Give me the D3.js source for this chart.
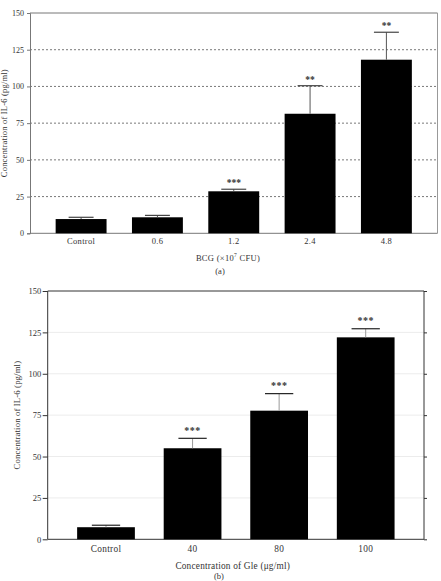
<!DOCTYPE html>
<html><head><meta charset="utf-8">
<script src="https://cdn.jsdelivr.net/npm/d3@7"></script>
<style>body{margin:0;background:#fff}svg{display:block}text{font-family:"Liberation Serif","Times New Roman",serif;fill:#333}</style>
</head><body><svg id="c" width="441" height="581"></svg>
<script>
const catsA = ["Control","0.6","1.2","2.4","4.8"];
const valsA = [9.7,10.9,28.6,81.4,118.2];
const errA  = [1.2,1.3,1.4,19.1,18.7];
const starsA = ["","","***","**","**"];
const catsB = ["Control","40","80","100"];
const valsB = [7.3,55,77.7,122];
const errB  = [1.2,6,10.3,5.2];
const starsB = ["","***","***","***"];
const yTicks = [0,25,50,75,100,125,150];

const svg = d3.select("#c");

// ---------- Panel (a) ----------
{
  const L=30,R=437.5,T=13,B=233.3;
  const x=d3.scaleBand().domain(catsA).range([L,R]).paddingInner(0.333).paddingOuter(0.336);
  const y=d3.scaleLinear().domain([0,150]).range([B,T]);
  const g=svg.append("g");
  g.selectAll(".grid").data(yTicks.filter(d=>d>0&&d<150)).join("line")
    .attr("x1",L).attr("x2",R).attr("y1",d=>y(d)).attr("y2",d=>y(d))
    .attr("stroke","#555").attr("stroke-width",0.8).attr("stroke-dasharray","2,2");
  g.append("line").attr("x1",L).attr("x2",R).attr("y1",T).attr("y2",T).attr("stroke","#777");
  g.append("line").attr("x1",R).attr("x2",R).attr("y1",T).attr("y2",B).attr("stroke","#999");
  const ya=g.append("g").attr("transform",`translate(${L},0)`)
    .call(d3.axisLeft(y).tickValues(yTicks).tickSize(3).tickPadding(3));
  ya.select(".domain").attr("stroke","#777");
  ya.selectAll(".tick line").attr("stroke","#777");
  ya.selectAll("text").attr("font-size","8px").attr("fill","#444").attr("font-family","Liberation Serif");
  const xa=g.append("g").attr("transform",`translate(0,${B})`)
    .call(d3.axisBottom(x).tickSize(0).tickPadding(5));
  xa.select(".domain").attr("stroke","#777").attr("d",`M${L},0H${R}`);
  xa.selectAll("text").attr("font-size","8.5px").attr("fill","#444").attr("font-family","Liberation Serif").attr("letter-spacing","0.3px");
  g.selectAll(".bar").data(catsA).join("rect")
    .attr("x",d=>x(d)).attr("width",x.bandwidth())
    .attr("y",(d,i)=>y(valsA[i])).attr("height",(d,i)=>B-y(valsA[i])).attr("fill","#000");
  const cw=x.bandwidth()*0.49;
  g.selectAll(".stem").data(catsA).join("line")
    .attr("x1",d=>x(d)+x.bandwidth()/2).attr("x2",d=>x(d)+x.bandwidth()/2)
    .attr("y1",(d,i)=>y(valsA[i])).attr("y2",(d,i)=>y(valsA[i]+errA[i])).attr("stroke","#555").attr("stroke-width",1);
  g.selectAll(".cap").data(catsA).join("line")
    .attr("x1",d=>x(d)+x.bandwidth()/2-cw/2).attr("x2",d=>x(d)+x.bandwidth()/2+cw/2)
    .attr("y1",(d,i)=>y(valsA[i]+errA[i])).attr("y2",(d,i)=>y(valsA[i]+errA[i])).attr("stroke","#444").attr("stroke-width",1.2);
  g.selectAll(".star").data(catsA).join("text")
    .attr("x",d=>x(d)+x.bandwidth()/2).attr("y",(d,i)=>y(valsA[i]+errA[i])-3)
    .attr("text-anchor","middle").attr("font-size","9.5px").attr("font-weight","bold").attr("fill","#222").text((d,i)=>starsA[i]);
  g.append("text").attr("transform",`translate(7,${(T+B)/2}) rotate(-90)`).attr("text-anchor","middle")
    .attr("font-size","8.5px").attr("fill","#444").attr("letter-spacing","0.2px").text("Concentration of IL-6 (pg/ml)");
  const t=g.append("text").attr("x",228).attr("y",260.5).attr("text-anchor","middle").attr("font-size","8.5px").attr("fill","#444").attr("letter-spacing","0.3px");
  t.append("tspan").text("BCG (×10");
  t.append("tspan").attr("font-size","5.5px").attr("dy","-3.5").text("7");
  t.append("tspan").attr("dy","3.5").text("  CFU)");
  g.append("text").attr("x",220).attr("y",274).attr("text-anchor","middle").attr("font-size","8.5px").attr("fill","#444").text("(a)");
}

// ---------- Panel (b) ----------
{
  const L=47.7,R=424,T=291,B=539.3;
  const x=d3.scaleBand().domain(catsB).range([L,R]).paddingInner(0.333).paddingOuter(0.34);
  const y=d3.scaleLinear().domain([0,150]).range([B,T]);
  const g=svg.append("g");
  g.selectAll(".grid").data(yTicks.filter(d=>d>0&&d<150)).join("line")
    .attr("x1",L).attr("x2",R).attr("y1",d=>y(d)).attr("y2",d=>y(d))
    .attr("stroke","#ececec").attr("stroke-width",1);
  g.append("line").attr("x1",L).attr("x2",R).attr("y1",T).attr("y2",T).attr("stroke","#333");
  const yr=g.append("g").attr("transform",`translate(${R},0)`)
    .call(d3.axisRight(y).tickValues(yTicks).tickSize(3).tickFormat(""));
  yr.select(".domain").attr("stroke","#333").attr("d",`M0,${B}V${T}`);
  yr.selectAll(".tick line").attr("stroke","#333");
  const ya=g.append("g").attr("transform",`translate(${L},0)`)
    .call(d3.axisLeft(y).tickValues(yTicks).tickSize(5).tickPadding(1.5));
  ya.select(".domain").attr("stroke","#333").attr("d",`M0,${B}V${T}`);
  ya.selectAll(".tick line").attr("stroke","#333");
  ya.selectAll("text").attr("font-size","8.5px").attr("fill","#444").attr("font-family","Liberation Serif");
  const xa=g.append("g").attr("transform",`translate(0,${B})`)
    .call(d3.axisBottom(x).tickSize(0).tickPadding(6));
  xa.select(".domain").attr("stroke","#333").attr("d",`M${L},0H${R}`);
  xa.selectAll("text").attr("font-size","9.3px").attr("fill","#444").attr("font-family","Liberation Serif").attr("letter-spacing","0.3px");
  g.selectAll(".bar").data(catsB).join("rect")
    .attr("x",d=>x(d)).attr("width",x.bandwidth())
    .attr("y",(d,i)=>y(valsB[i])).attr("height",(d,i)=>B-y(valsB[i])).attr("fill","#000");
  const cw=x.bandwidth()*0.49;
  g.selectAll(".stem").data(catsB).join("line")
    .attr("x1",d=>x(d)+x.bandwidth()/2).attr("x2",d=>x(d)+x.bandwidth()/2)
    .attr("y1",(d,i)=>y(valsB[i])).attr("y2",(d,i)=>y(valsB[i]+errB[i])).attr("stroke","#999").attr("stroke-width",1);
  g.selectAll(".cap").data(catsB).join("line")
    .attr("x1",d=>x(d)+x.bandwidth()/2-cw/2).attr("x2",d=>x(d)+x.bandwidth()/2+cw/2)
    .attr("y1",(d,i)=>y(valsB[i]+errB[i])).attr("y2",(d,i)=>y(valsB[i]+errB[i])).attr("stroke","#222").attr("stroke-width",1.2);
  g.selectAll(".star").data(catsB).join("text")
    .attr("x",d=>x(d)+x.bandwidth()/2).attr("y",(d,i)=>y(valsB[i]+errB[i])-4.5)
    .attr("text-anchor","middle").attr("font-size","10px").attr("font-weight","bold").attr("fill","#222").attr("letter-spacing","0.5px").text((d,i)=>starsB[i]);
  g.append("text").attr("transform",`translate(20,${(T+B)/2}) rotate(-90)`).attr("text-anchor","middle")
    .attr("font-size","8.8px").attr("fill","#444").attr("letter-spacing","0.1px").text("Concentration of IL-6 (pg/ml)");
  g.append("text").attr("x",232.7).attr("y",569).attr("text-anchor","middle").attr("font-size","9.3px").attr("fill","#444").attr("letter-spacing","0.2px").text("Concentration of Gle (μg/ml)");
  g.append("text").attr("x",219).attr("y",578.5).attr("text-anchor","middle").attr("font-size","8.5px").attr("fill","#444").text("(b)");
}
</script></body></html>
